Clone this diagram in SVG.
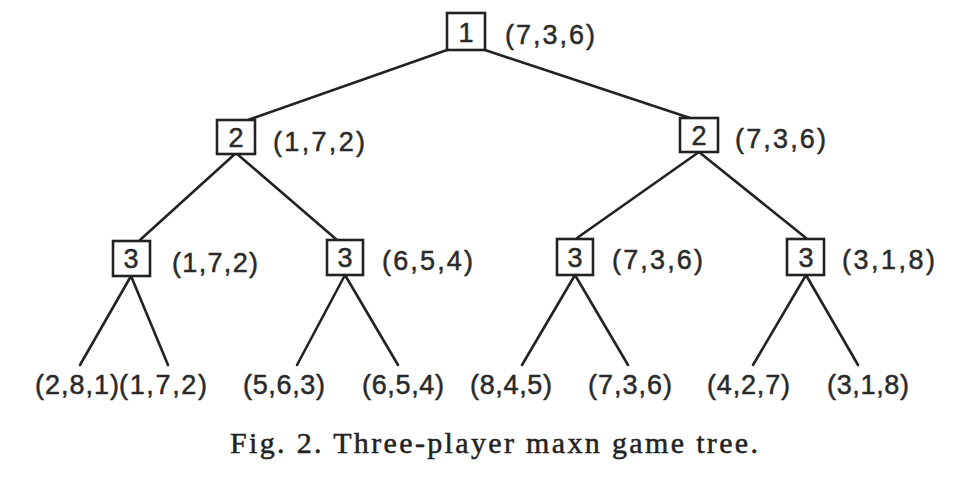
<svg xmlns="http://www.w3.org/2000/svg" width="974" height="478" viewBox="0 0 974 478">
<style>
.box{fill:#fff;stroke:#222;stroke-width:2.6}
.n{font-family:"Liberation Sans",Arial,sans-serif;font-size:27px;fill:#2a2a2a;stroke:#2a2a2a;stroke-width:0.5;text-anchor:middle}
.v{font-family:"Liberation Sans",Arial,sans-serif;font-size:27px;fill:#2a2a2a;stroke:#2a2a2a;stroke-width:0.5}
.e{stroke:#222;stroke-width:2.6;fill:none;stroke-linecap:round}
.cap{font-family:"Liberation Serif","Times New Roman",serif;font-size:30px;fill:#222;stroke:#222;stroke-width:0.5}
</style>
<rect width="974" height="478" fill="#fff"/>
<g id="connectors">
<line class="e" x1="447" y1="50" x2="248" y2="120"/>
<line class="e" x1="485" y1="50" x2="690" y2="118"/>
<line class="e" x1="236" y1="153" x2="140" y2="240"/>
<line class="e" x1="236" y1="153" x2="337" y2="240"/>
<line class="e" x1="699" y1="152" x2="577" y2="238"/>
<line class="e" x1="699" y1="152" x2="806" y2="238"/>
<line class="e" x1="131" y1="276" x2="80" y2="365"/>
<line class="e" x1="131" y1="276" x2="168" y2="365"/>
<line class="e" x1="345" y1="275" x2="297" y2="365"/>
<line class="e" x1="345" y1="275" x2="398" y2="365"/>
<line class="e" x1="575" y1="275" x2="522" y2="365"/>
<line class="e" x1="575" y1="275" x2="628" y2="365"/>
<line class="e" x1="806" y1="275" x2="753" y2="365"/>
<line class="e" x1="806" y1="275" x2="858" y2="365"/>
</g>
<g id="n1"><rect class="box" x="447" y="13" width="38" height="37"/><text class="n" x="466" y="42">1</text><text class="v" x="505" y="44" textLength="90" lengthAdjust="spacing">(7,3,6)</text></g>
<g id="n2a"><rect class="box" x="217" y="120" width="38" height="34"/><text class="n" x="236" y="147">2</text><text class="v" x="273" y="151" textLength="92" lengthAdjust="spacing">(1,7,2)</text></g>
<g id="n2b"><rect class="box" x="680" y="118" width="38" height="34"/><text class="n" x="699" y="145">2</text><text class="v" x="735" y="148" textLength="91" lengthAdjust="spacing">(7,3,6)</text></g>
<g id="n3a"><rect class="box" x="113" y="241" width="37" height="35"/><text class="n" x="131" y="268">3</text><text class="v" x="172" y="272" textLength="86" lengthAdjust="spacing">(1,7,2)</text></g>
<g id="n3b"><rect class="box" x="327" y="240" width="36" height="35"/><text class="n" x="345" y="267">3</text><text class="v" x="382" y="270" textLength="91" lengthAdjust="spacing">(6,5,4)</text></g>
<g id="n3c"><rect class="box" x="557" y="239" width="36" height="36"/><text class="n" x="575" y="267">3</text><text class="v" x="612" y="269" textLength="91" lengthAdjust="spacing">(7,3,6)</text></g>
<g id="n3d"><rect class="box" x="787" y="239" width="37" height="36"/><text class="n" x="806" y="267">3</text><text class="v" x="842" y="269" textLength="93" lengthAdjust="spacing">(3,1,8)</text></g>
<g id="leaves">
<text class="v" x="35" y="394" textLength="84" lengthAdjust="spacing">(2,8,1)</text>
<text class="v" x="119" y="394" textLength="88" lengthAdjust="spacing">(1,7,2)</text>
<text class="v" x="243" y="394" textLength="82" lengthAdjust="spacing">(5,6,3)</text>
<text class="v" x="362" y="394" textLength="82" lengthAdjust="spacing">(6,5,4)</text>
<text class="v" x="470" y="394" textLength="82" lengthAdjust="spacing">(8,4,5)</text>
<text class="v" x="588" y="394" textLength="84" lengthAdjust="spacing">(7,3,6)</text>
<text class="v" x="707" y="394" textLength="83" lengthAdjust="spacing">(4,2,7)</text>
<text class="v" x="827" y="394" textLength="82" lengthAdjust="spacing">(3,1,8)</text>
</g>
<text class="cap" x="230" y="453" textLength="528" lengthAdjust="spacing">Fig. 2.  Three-player maxn game tree.</text>
</svg>
